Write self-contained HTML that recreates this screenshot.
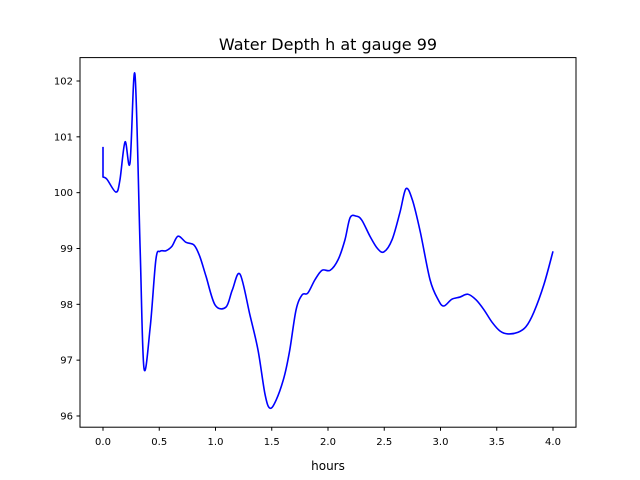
<!DOCTYPE html>
<html><head><meta charset="utf-8"><style>
body{margin:0;background:#fff;}
svg{display:block;font-family:"DejaVu Sans","Liberation Sans",sans-serif;}
</style></head><body>
<svg id="chart" width="640" height="480">
<rect width="640" height="480" fill="#fff"/>
<text x="328" y="50" text-anchor="middle" font-size="16">Water Depth h at gauge 99</text>
<text x="328" y="470" text-anchor="middle" font-size="12">hours</text>
<g id="plot"></g>
<rect x="80" y="57.6" width="496" height="369.6" fill="none" stroke="#000" stroke-width="1"/>
</svg>
<script>
const hours=[0,0,0.035,0.115,0.15,0.196,0.24,0.284,0.33,0.364,0.42,0.47,0.507,0.56,0.613,0.667,0.738,0.81,0.86,0.916,0.996,1.093,1.15,1.218,1.307,1.378,1.44,1.484,1.54,1.61,1.66,1.716,1.77,1.82,1.884,1.947,2.02,2.09,2.15,2.196,2.25,2.3,2.373,2.44,2.498,2.57,2.64,2.693,2.75,2.82,2.907,2.98,3.03,3.10,3.173,3.244,3.316,3.387,3.458,3.53,3.6,3.69,3.76,3.83,3.92,4.0];
const depth=[100.82,100.28,100.24,100.01,100.22,100.91,100.53,102.12,99.0,96.86,97.6,98.8,98.95,98.96,99.04,99.22,99.11,99.06,98.86,98.5,97.99,97.95,98.26,98.54,97.8,97.18,96.39,96.14,96.29,96.7,97.18,97.9,98.17,98.2,98.44,98.61,98.61,98.8,99.15,99.55,99.58,99.51,99.22,99.0,98.94,99.16,99.65,100.07,99.87,99.3,98.44,98.08,97.97,98.09,98.13,98.18,98.08,97.9,97.68,97.52,97.47,97.5,97.6,97.86,98.36,98.95];
const xTicks=[0,0.5,1.0,1.5,2.0,2.5,3.0,3.5,4.0];
const yTicks=[96,97,98,99,100,101,102];
const X=v=>103+v*112.5;
const Y=v=>81+(102-v)*55.83;
const NS='http://www.w3.org/2000/svg';
const g=document.getElementById('plot');
function mk(t,a){const e=document.createElementNS(NS,t);for(const k in a)e.setAttribute(k,a[k]);return e;}
xTicks.forEach(t=>{
  const l=mk('line',{x1:X(t),x2:X(t),y1:427.2,y2:430.7,stroke:'#000'});
  
  
  g.appendChild(l);
  const tx=mk('text',{x:X(t),y:445,'text-anchor':'middle','font-size':'10'});
  tx.textContent=t.toFixed(1);
  
  
  g.appendChild(tx);
});
yTicks.forEach(t=>{
  const l=mk('line',{x1:76.5,x2:80,y1:Y(t),y2:Y(t),stroke:'#000'});
  
  
  g.appendChild(l);
  const tx=mk('text',{x:73,y:Y(t)+3.5,'text-anchor':'end','font-size':'10'});
  tx.textContent=String(t);
  
  
  g.appendChild(tx);
});
const P=hours.map((h,i)=>[X(h),Y(depth[i])]);
let d='M'+P[0][0]+','+P[0][1]+' L'+P[1][0]+','+P[1][1];
for(let i=1;i<P.length-1;i++){
  const p0=P[Math.max(i-1,1)],p1=P[i],p2=P[i+1],p3=P[Math.min(i+2,P.length-1)];
  const c1=[p1[0]+(p2[0]-p0[0])/6,p1[1]+(p2[1]-p0[1])/6];
  const c2=[p2[0]-(p3[0]-p1[0])/6,p2[1]-(p3[1]-p1[1])/6];
  d+=' C'+c1[0]+','+c1[1]+' '+c2[0]+','+c2[1]+' '+p2[0]+','+p2[1];
}
const path=mk('path',{d:d,fill:'none',stroke:'#0000ff','stroke-width':'1.6','stroke-linejoin':'round'});


g.appendChild(path);
</script>
</body></html>
